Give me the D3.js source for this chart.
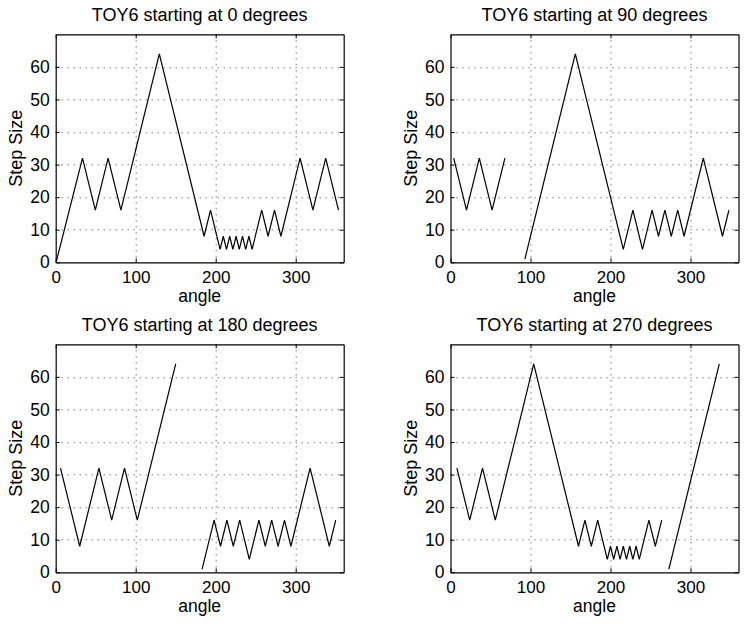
<!DOCTYPE html>
<html>
<head>
<meta charset="utf-8">
<script src="https://cdn.jsdelivr.net/npm/d3@7"></script>
<style>
  html, body { margin: 0; padding: 0; background: #ffffff; }
  #chart { width: 745px; height: 628px; }
</style>
</head>
<body>
<div id="chart"></div>
<script>
// Four TOY6 step-size panels (matlab-style subplot grid)
var panelTitles = ['TOY6 starting at 0 degrees', 'TOY6 starting at 90 degrees',
                   'TOY6 starting at 180 degrees', 'TOY6 starting at 270 degrees'];
var xTicks = [0, 100, 200, 300];
var yTicks = [0, 10, 20, 30, 40, 50, 60];
var xLabel = 'angle';
var yLabel = 'Step Size';

// null marks a break in the line
var angle0 = [0.5, 33.5, 49.5, 65.5, 81.5, 129.5, 185.5, 193.5, 205.5, 209.5, 213.5, 217.5, 221.5, 225.5, 229.5, 233.5, 237.5, 241.5, 245.5, 257.5, 265.5, 273.5, 281.5, 305.5, 321.5, 337.5, 353.5];
var step0  = [0, 32, 16, 32, 16, 64, 8, 16, 4, 8, 4, 8, 4, 8, 4, 8, 4, 8, 4, 16, 8, 16, 8, 32, 16, 32, 16];

var angle90 = [4, 20, 36, 52, 68, null, 93, 156, 216, 228, 240, 252, 260, 268, 276, 284, 292, 316, 340, 348];
var step90  = [32, 16, 32, 16, 32, null, 1, 64, 4, 16, 4, 16, 8, 16, 8, 16, 8, 32, 8, 16];

var angle180 = [6, 30, 54, 70, 86, 102, 150, null, 183, 198, 206, 214, 222, 230, 242, 254, 262, 270, 278, 286, 294, 318, 342, 350];
var step180  = [32, 8, 32, 16, 32, 16, 64, null, 1, 16, 8, 16, 8, 16, 4, 16, 8, 16, 8, 16, 8, 32, 8, 16];

var angle270 = [8, 24, 40, 56, 104, 160, 168, 176, 184, 196, 200, 204, 208, 212, 216, 220, 224, 228, 232, 236, 248, 256, 264, null, 273, 336];
var step270  = [32, 16, 32, 16, 64, 8, 16, 8, 16, 4, 8, 4, 8, 4, 8, 4, 8, 4, 8, 4, 16, 8, 16, null, 1, 64];

(function(){
  var W = 745, H = 628;
  var font = '"Liberation Sans", Arial, Helvetica, sans-serif';
  var series = [[angle0, step0], [angle90, step90], [angle180, step180], [angle270, step270]];
  var lefts = [55.7, 450.5], tops = [34.3, 344.3];
  var pw = 288, ph = 228;

  var svg = d3.select('#chart').append('svg')
    .attr('width', W).attr('height', H)
    .style('font-family', font);

  function drawPanel(i){
    var col = i % 2, row = Math.floor(i / 2);
    var g = svg.append('g').attr('transform', 'translate(' + lefts[col] + ',' + tops[row] + ')');
    var x = d3.scaleLinear().domain([0, 360]).range([0, pw]);
    var y = d3.scaleLinear().domain([0, 70]).range([ph, 0]);

    // dotted grid
    g.append('g').selectAll('line').data(xTicks.filter(function(d){ return d > 0; })).enter()
      .append('line')
      .attr('x1', function(d){ return x(d) + 0.5; }).attr('x2', function(d){ return x(d) + 0.5; })
      .attr('y1', 0).attr('y2', ph)
      .attr('stroke', '#444').attr('stroke-width', 1).attr('stroke-dasharray', '1,5');
    g.append('g').selectAll('line').data(yTicks.filter(function(d){ return d > 0; })).enter()
      .append('line')
      .attr('y1', function(d){ return Math.round(y(d)) + 0.5; }).attr('y2', function(d){ return Math.round(y(d)) + 0.5; })
      .attr('x1', 0).attr('x2', pw)
      .attr('stroke', '#444').attr('stroke-width', 1).attr('stroke-dasharray', '1,5');

    // data line
    var a = series[i][0], s = series[i][1];
    var pts = a.map(function(v, k){ return [v, s[k]]; });
    var line = d3.line()
      .defined(function(d){ return d[0] !== null && d[1] !== null; })
      .x(function(d){ return x(d[0]); })
      .y(function(d){ return y(d[1]); });
    g.append('path').datum(pts)
      .attr('d', line)
      .attr('fill', 'none')
      .attr('stroke', '#000')
      .attr('stroke-width', 1.2);

    // axes (ticks pointing inward, box on)
    var ax = g.append('g').attr('transform', 'translate(0,' + ph + ')')
      .call(d3.axisBottom(x).tickValues(xTicks).tickSizeInner(-4).tickSizeOuter(0).tickPadding(9));
    var ay = g.append('g')
      .call(d3.axisLeft(y).tickValues(yTicks).tickSizeInner(-4).tickSizeOuter(0).tickPadding(6));
    g.append('g')
      .call(d3.axisTop(x).tickValues(xTicks).tickSizeInner(-4).tickSizeOuter(0).tickFormat(''));
    g.append('g').attr('transform', 'translate(' + pw + ',0)')
      .call(d3.axisRight(y).tickValues(yTicks).tickSizeInner(-4).tickSizeOuter(0).tickFormat(''));
    g.selectAll('.domain').attr('stroke', '#000').attr('stroke-width', 1.2);
    g.selectAll('.tick line').attr('stroke', '#000');
    ax.selectAll('text').style('font-size', '17px').style('font-family', font).attr('fill', '#000');
    ay.selectAll('text').style('font-size', '17.5px').style('font-family', font).attr('fill', '#000');

    // title and labels
    g.append('text')
      .attr('x', pw / 2).attr('y', -13)
      .attr('text-anchor', 'middle')
      .style('font-size', '18px')
      .text(panelTitles[i]);
    g.append('text')
      .attr('x', pw / 2).attr('y', ph + 40)
      .attr('text-anchor', 'middle')
      .style('font-size', '17.5px')
      .text(xLabel);
    g.append('text')
      .attr('transform', 'translate(-34,' + (ph / 2) + ') rotate(-90)')
      .attr('text-anchor', 'middle')
      .style('font-size', '18px')
      .text(yLabel);
  }

  for (var i = 0; i < 4; i++) drawPanel(i);
})();
</script>
</body>
</html>
